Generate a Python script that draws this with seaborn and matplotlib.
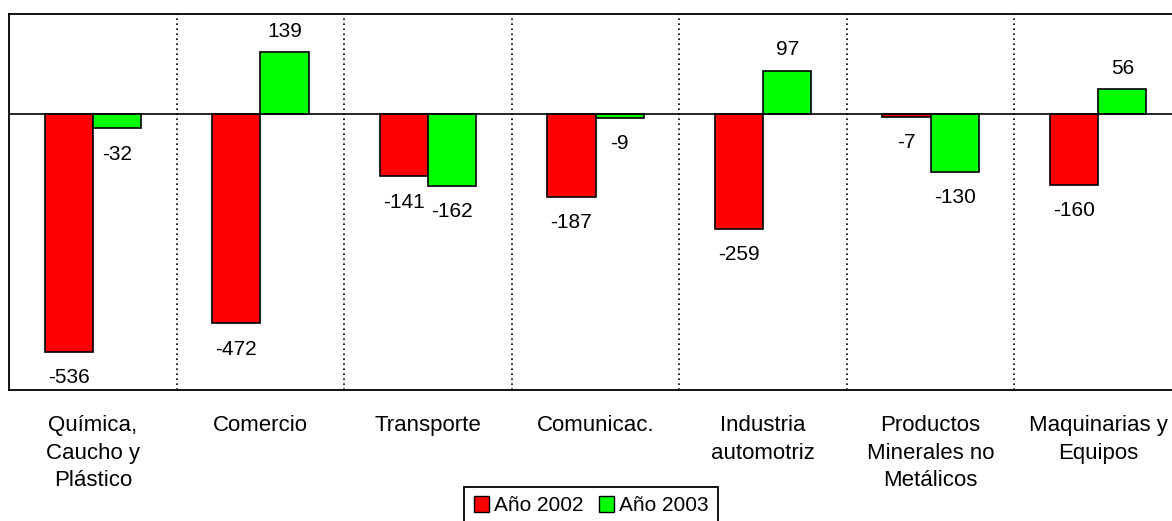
import pandas as pd
import matplotlib.pyplot as plt
import seaborn as sns
from matplotlib.patches import Patch

# Data
categories = ["Química,\nCaucho y\nPlástico", "Comercio", "Transporte", "Comunicac.",
              "Industria\nautomotriz", "Productos\nMinerales no\nMetálicos", "Maquinarias y\nEquipos"]
vals_2002 = [-536, -472, -141, -187, -259, -7, -160]
vals_2003 = [-32, 139, -162, -9, 97, -130, 56]
series = ["Año 2002", "Año 2003"]
colors = ["#FF0000", "#00FF00"]

df = pd.DataFrame({
    "Sector": categories * 2,
    "Valor": vals_2002 + vals_2003,
    "Serie": [series[0]] * len(categories) + [series[1]] * len(categories),
})

sns.set_style("white")
plt.rcParams['font.family'] = ['Liberation Sans', 'DejaVu Sans']
plt.rcParams['text.color'] = 'black'
plt.rcParams['xtick.color'] = 'black'

W, H = 1172, 521
fig = plt.figure(figsize=(W / 100, H / 100), dpi=100)
ax = fig.add_axes([9 / W, 1 - 390 / H, 1173 / W, 376 / H])

sns.barplot(data=df, x="Sector", y="Valor", hue="Serie", order=categories, hue_order=series,
            palette=dict(zip(series, colors)), width=0.575, saturation=1,
            edgecolor="black", linewidth=1.2, ax=ax, legend=False)

ax.set_xlim(-0.5, len(categories) - 0.5)
ax.set_ylim(-622, 225)
ax.set_yticks([])
ax.set_xlabel("")
ax.set_ylabel("")
ax.tick_params(axis="x", length=0, pad=18, labelsize=16)
for lbl in ax.get_xticklabels():
    lbl.set_linespacing(1.42)
    lbl.set_verticalalignment("top")

for side in ["left", "top", "bottom"]:
    ax.spines[side].set_color("black")
    ax.spines[side].set_linewidth(1.3)
ax.spines["right"].set_visible(False)

ax.axhline(0, color="black", lw=1.2, zorder=3)
for i in range(len(categories) - 1):
    ax.axvline(i + 0.5, color="black", lw=1.2, ls=(0, (1, 2)), zorder=0)

# value labels
for cont in ax.containers:
    for bar in cont:
        h = bar.get_height()
        x = bar.get_x() + bar.get_width() / 2
        off = 21 if h > 0 else -26
        ax.annotate(f"{h:.0f}", (x, h), xytext=(0, off), textcoords="offset pixels",
                    ha="center", va="center", fontsize=15)

handles = [Patch(facecolor=c, edgecolor="black", label=s) for s, c in zip(series, colors)]
leg = fig.legend(handles=handles, loc="upper center", bbox_to_anchor=(591 / W, 1 - 487 / H),
                 ncol=2, frameon=True, fancybox=False, edgecolor="black", framealpha=1,
                 handlelength=0.75, handleheight=0.75, handletextpad=0.2, columnspacing=0.75,
                 borderpad=0.45, borderaxespad=0, fontsize=15)
leg.get_frame().set_linewidth(1.3)

fig.savefig("out.png", dpi=100)
